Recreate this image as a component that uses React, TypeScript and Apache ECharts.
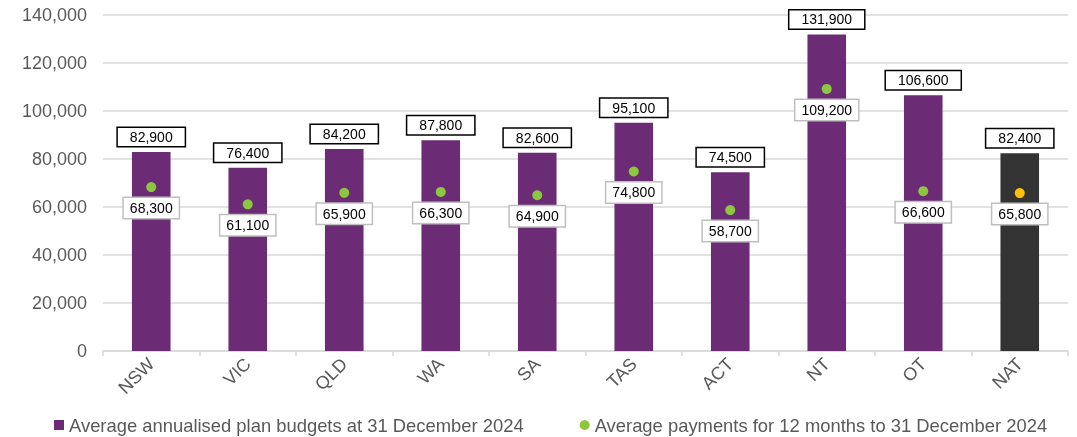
import React, { useEffect, useRef } from "react";
import * as echarts from "echarts";

const categories = ["NSW", "VIC", "QLD", "WA", "SA", "TAS", "ACT", "NT", "OT", "NAT"];
const budgets = [82900, 76400, 84200, 87800, 82600, 95100, 74500, 131900, 106600, 82400];
const payments = [68300, 61100, 65900, 66300, 64900, 74800, 58700, 109200, 66600, 65800];
const yTicks = { min: 0, max: 140000, interval: 20000 };

const PURPLE = "#6B2C75";
const DARK = "#333333";
const GREEN = "#8DC63F";
const ORANGE = "#FFC000";
const FONT = "'Liberation Sans', Arial, sans-serif";

export default function App() {
  const ref = useRef<HTMLDivElement>(null);
  useEffect(() => {
    if (!ref.current) return;
    const chart = echarts.init(ref.current, null, { renderer: "svg" });
    const fmt = (v: number) => v.toLocaleString("en-US");
    chart.setOption({
      animation: false,
      textStyle: { fontFamily: FONT },
      grid: { left: 103, right: 9, top: 15, bottom: 86, containLabel: false },
      legend: {
        bottom: -2,
        left: 49,
        itemGap: 56,
        itemWidth: 10,
        itemHeight: 10,
        textStyle: { fontSize: 18.4, color: "#595959", fontFamily: FONT },
        data: [
          { name: "Average annualised plan budgets at 31 December 2024", icon: "rect" },
          { name: "Average payments for 12 months to 31 December 2024", icon: "circle" },
        ],
      },
      xAxis: {
        type: "category",
        data: categories,
        axisLine: { lineStyle: { color: "#d9d9d9", width: 1.5 } },
        axisTick: { show: true, alignWithLabel: false, length: 5, lineStyle: { color: "#d9d9d9", width: 1.5 } },
        axisLabel: { rotate: 45, fontSize: 18, color: "#595959", margin: 10, fontFamily: FONT },
      },
      yAxis: {
        type: "value",
        min: yTicks.min,
        max: yTicks.max,
        interval: yTicks.interval,
        axisLine: { show: false },
        axisTick: { show: false },
        splitLine: { lineStyle: { color: "#d9d9d9", width: 1.5 } },
        axisLabel: { fontSize: 18, color: "#595959", margin: 16, fontFamily: FONT, formatter: (v: number) => fmt(v) },
      },
      series: [
        {
          name: "Average annualised plan budgets at 31 December 2024",
          type: "bar",
          barWidth: "40%",
          itemStyle: { color: PURPLE },
          data: budgets.map((v, i) => ({
            value: v,
            itemStyle: { color: categories[i] === "NAT" ? DARK : PURPLE },
          })),
          label: {
            show: true,
            position: "top",
            distance: 6,
            formatter: (p: any) => fmt(p.value),
            fontSize: 14,
            color: "#000",
            fontFamily: FONT,
            backgroundColor: "#fff",
            borderColor: "#000",
            borderWidth: 1.5,
            padding: [2, 12, 2, 12],
          },
          z: 2,
        },
        {
          name: "Average payments for 12 months to 31 December 2024",
          type: "scatter",
          symbol: "circle",
          symbolSize: 10,
          itemStyle: { color: GREEN, opacity: 1 },
          data: payments.map((v, i) => ({
            value: v,
            itemStyle: { color: categories[i] === "NAT" ? ORANGE : GREEN, opacity: 1 },
          })),
          label: {
            show: true,
            position: "bottom",
            distance: 6,
            formatter: (p: any) => fmt(p.value),
            fontSize: 14,
            color: "#000",
            opacity: 1,
            fontFamily: FONT,
            backgroundColor: "#fff",
            borderColor: "#bfbfbf",
            borderWidth: 1.5,
            padding: [3, 6, 3, 6],
          },
          z: 3,
        },
      ],
    });
    return () => chart.dispose();
  }, []);
  return (
    <div
      ref={ref}
      style={{ position: "fixed", left: 0, top: 0, width: 1077, height: 437 }}
    />
  );
}
